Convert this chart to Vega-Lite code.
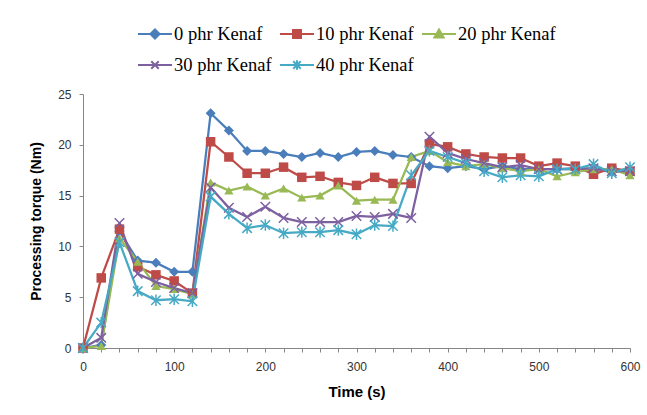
{
"$schema": "https://vega.github.io/schema/vega-lite/v6.json",
"width": 547, "height": 254,
"autosize": {"type": "none"},
"padding": {"left": 83, "top": 94, "right": 17, "bottom": 67},
"background": "white",
"config": {"view": {"stroke": null}, "font": "Liberation Sans"},
"data": {"values": [
{"t":0,"s":"0 phr Kenaf","v":0},{"t":20,"s":"0 phr Kenaf","v":0.3},{"t":40,"s":"0 phr Kenaf","v":11.5},{"t":60,"s":"0 phr Kenaf","v":8.6},{"t":80,"s":"0 phr Kenaf","v":8.4},{"t":100,"s":"0 phr Kenaf","v":7.5},{"t":120,"s":"0 phr Kenaf","v":7.5},{"t":140,"s":"0 phr Kenaf","v":23.1},{"t":160,"s":"0 phr Kenaf","v":21.4},{"t":180,"s":"0 phr Kenaf","v":19.4},{"t":200,"s":"0 phr Kenaf","v":19.4},{"t":220,"s":"0 phr Kenaf","v":19.1},{"t":240,"s":"0 phr Kenaf","v":18.8},{"t":260,"s":"0 phr Kenaf","v":19.2},{"t":280,"s":"0 phr Kenaf","v":18.8},{"t":300,"s":"0 phr Kenaf","v":19.3},{"t":320,"s":"0 phr Kenaf","v":19.4},{"t":340,"s":"0 phr Kenaf","v":19.0},{"t":360,"s":"0 phr Kenaf","v":18.8},{"t":380,"s":"0 phr Kenaf","v":17.9},{"t":400,"s":"0 phr Kenaf","v":17.7},{"t":420,"s":"0 phr Kenaf","v":17.9},{"t":440,"s":"0 phr Kenaf","v":17.6},{"t":460,"s":"0 phr Kenaf","v":17.9},{"t":480,"s":"0 phr Kenaf","v":17.6},{"t":500,"s":"0 phr Kenaf","v":17.6},{"t":520,"s":"0 phr Kenaf","v":17.6},{"t":540,"s":"0 phr Kenaf","v":17.7},{"t":560,"s":"0 phr Kenaf","v":17.6},{"t":580,"s":"0 phr Kenaf","v":17.3},{"t":600,"s":"0 phr Kenaf","v":17.4},
{"t":0,"s":"10 phr Kenaf","v":0},{"t":20,"s":"10 phr Kenaf","v":6.9},{"t":40,"s":"10 phr Kenaf","v":11.7},{"t":60,"s":"10 phr Kenaf","v":8.0},{"t":80,"s":"10 phr Kenaf","v":7.2},{"t":100,"s":"10 phr Kenaf","v":6.6},{"t":120,"s":"10 phr Kenaf","v":5.4},{"t":140,"s":"10 phr Kenaf","v":20.3},{"t":160,"s":"10 phr Kenaf","v":18.8},{"t":180,"s":"10 phr Kenaf","v":17.2},{"t":200,"s":"10 phr Kenaf","v":17.2},{"t":220,"s":"10 phr Kenaf","v":17.8},{"t":240,"s":"10 phr Kenaf","v":16.8},{"t":260,"s":"10 phr Kenaf","v":16.9},{"t":280,"s":"10 phr Kenaf","v":16.3},{"t":300,"s":"10 phr Kenaf","v":16.0},{"t":320,"s":"10 phr Kenaf","v":16.8},{"t":340,"s":"10 phr Kenaf","v":16.2},{"t":360,"s":"10 phr Kenaf","v":16.2},{"t":380,"s":"10 phr Kenaf","v":20.1},{"t":400,"s":"10 phr Kenaf","v":19.8},{"t":420,"s":"10 phr Kenaf","v":19.1},{"t":440,"s":"10 phr Kenaf","v":18.8},{"t":460,"s":"10 phr Kenaf","v":18.7},{"t":480,"s":"10 phr Kenaf","v":18.7},{"t":500,"s":"10 phr Kenaf","v":17.9},{"t":520,"s":"10 phr Kenaf","v":18.2},{"t":540,"s":"10 phr Kenaf","v":17.9},{"t":560,"s":"10 phr Kenaf","v":17.1},{"t":580,"s":"10 phr Kenaf","v":17.7},{"t":600,"s":"10 phr Kenaf","v":17.4},
{"t":0,"s":"20 phr Kenaf","v":0},{"t":20,"s":"20 phr Kenaf","v":0.2},{"t":40,"s":"20 phr Kenaf","v":10.8},{"t":60,"s":"20 phr Kenaf","v":8.5},{"t":80,"s":"20 phr Kenaf","v":6.1},{"t":100,"s":"20 phr Kenaf","v":5.8},{"t":120,"s":"20 phr Kenaf","v":5.3},{"t":140,"s":"20 phr Kenaf","v":16.3},{"t":160,"s":"20 phr Kenaf","v":15.5},{"t":180,"s":"20 phr Kenaf","v":15.9},{"t":200,"s":"20 phr Kenaf","v":15.0},{"t":220,"s":"20 phr Kenaf","v":15.7},{"t":240,"s":"20 phr Kenaf","v":14.8},{"t":260,"s":"20 phr Kenaf","v":15.0},{"t":280,"s":"20 phr Kenaf","v":16.0},{"t":300,"s":"20 phr Kenaf","v":14.5},{"t":320,"s":"20 phr Kenaf","v":14.6},{"t":340,"s":"20 phr Kenaf","v":14.6},{"t":360,"s":"20 phr Kenaf","v":18.8},{"t":380,"s":"20 phr Kenaf","v":19.4},{"t":400,"s":"20 phr Kenaf","v":18.3},{"t":420,"s":"20 phr Kenaf","v":17.9},{"t":440,"s":"20 phr Kenaf","v":18.1},{"t":460,"s":"20 phr Kenaf","v":17.7},{"t":480,"s":"20 phr Kenaf","v":17.4},{"t":500,"s":"20 phr Kenaf","v":17.6},{"t":520,"s":"20 phr Kenaf","v":16.9},{"t":540,"s":"20 phr Kenaf","v":17.3},{"t":560,"s":"20 phr Kenaf","v":17.6},{"t":580,"s":"20 phr Kenaf","v":17.6},{"t":600,"s":"20 phr Kenaf","v":17.0},
{"t":0,"s":"30 phr Kenaf","v":0},{"t":20,"s":"30 phr Kenaf","v":1.0},{"t":40,"s":"30 phr Kenaf","v":12.3},{"t":60,"s":"30 phr Kenaf","v":7.3},{"t":80,"s":"30 phr Kenaf","v":6.5},{"t":100,"s":"30 phr Kenaf","v":5.9},{"t":120,"s":"30 phr Kenaf","v":5.4},{"t":140,"s":"30 phr Kenaf","v":15.8},{"t":160,"s":"30 phr Kenaf","v":13.8},{"t":180,"s":"30 phr Kenaf","v":12.9},{"t":200,"s":"30 phr Kenaf","v":13.9},{"t":220,"s":"30 phr Kenaf","v":12.8},{"t":240,"s":"30 phr Kenaf","v":12.4},{"t":260,"s":"30 phr Kenaf","v":12.4},{"t":280,"s":"30 phr Kenaf","v":12.4},{"t":300,"s":"30 phr Kenaf","v":13.0},{"t":320,"s":"30 phr Kenaf","v":12.9},{"t":340,"s":"30 phr Kenaf","v":13.2},{"t":360,"s":"30 phr Kenaf","v":12.8},{"t":380,"s":"30 phr Kenaf","v":20.8},{"t":400,"s":"30 phr Kenaf","v":19.2},{"t":420,"s":"30 phr Kenaf","v":18.6},{"t":440,"s":"30 phr Kenaf","v":18.2},{"t":460,"s":"30 phr Kenaf","v":17.8},{"t":480,"s":"30 phr Kenaf","v":18.0},{"t":500,"s":"30 phr Kenaf","v":17.6},{"t":520,"s":"30 phr Kenaf","v":17.6},{"t":540,"s":"30 phr Kenaf","v":17.6},{"t":560,"s":"30 phr Kenaf","v":17.7},{"t":580,"s":"30 phr Kenaf","v":17.4},{"t":600,"s":"30 phr Kenaf","v":17.4},
{"t":0,"s":"40 phr Kenaf","v":0},{"t":20,"s":"40 phr Kenaf","v":2.5},{"t":40,"s":"40 phr Kenaf","v":10.4},{"t":60,"s":"40 phr Kenaf","v":5.6},{"t":80,"s":"40 phr Kenaf","v":4.7},{"t":100,"s":"40 phr Kenaf","v":4.8},{"t":120,"s":"40 phr Kenaf","v":4.6},{"t":140,"s":"40 phr Kenaf","v":14.9},{"t":160,"s":"40 phr Kenaf","v":13.2},{"t":180,"s":"40 phr Kenaf","v":11.8},{"t":200,"s":"40 phr Kenaf","v":12.1},{"t":220,"s":"40 phr Kenaf","v":11.3},{"t":240,"s":"40 phr Kenaf","v":11.4},{"t":260,"s":"40 phr Kenaf","v":11.4},{"t":280,"s":"40 phr Kenaf","v":11.6},{"t":300,"s":"40 phr Kenaf","v":11.2},{"t":320,"s":"40 phr Kenaf","v":12.1},{"t":340,"s":"40 phr Kenaf","v":12.0},{"t":360,"s":"40 phr Kenaf","v":17.0},{"t":380,"s":"40 phr Kenaf","v":19.4},{"t":400,"s":"40 phr Kenaf","v":18.8},{"t":420,"s":"40 phr Kenaf","v":18.2},{"t":440,"s":"40 phr Kenaf","v":17.4},{"t":460,"s":"40 phr Kenaf","v":16.8},{"t":480,"s":"40 phr Kenaf","v":17.0},{"t":500,"s":"40 phr Kenaf","v":16.9},{"t":520,"s":"40 phr Kenaf","v":17.6},{"t":540,"s":"40 phr Kenaf","v":17.6},{"t":560,"s":"40 phr Kenaf","v":18.1},{"t":580,"s":"40 phr Kenaf","v":17.2},{"t":600,"s":"40 phr Kenaf","v":17.8}
]},
"encoding": {
  "x": {"field": "t", "type": "quantitative", "scale": {"domain": [0, 600], "nice": false, "zero": false},
    "axis": {"title": "Time (s)", "values": [0,20,40,60,80,100,120,140,160,180,200,220,240,260,280,300,320,340,360,380,400,420,440,460,480,500,520,540,560,580,600],
      "labelExpr": "datum.value % 100 === 0 ? datum.label : ''", "labelOverlap": false, "labelFlush": false,
      "grid": false, "tickSize": 4, "labelPadding": 9, "domainColor": "#868686", "tickColor": "#868686",
      "labelFontSize": 12, "labelColor": "#333333", "titleFontSize": 15, "titleFontWeight": "bold", "titleColor": "black", "titlePadding": 12}},
  "y": {"field": "v", "type": "quantitative", "scale": {"domain": [0, 25], "nice": false},
    "axis": {"title": "Processing torque (Nm)", "values": [0,5,10,15,20,25], "grid": false, "tickSize": 4, "labelPadding": 8,
      "domainColor": "#868686", "tickColor": "#868686", "labelFontSize": 12, "labelColor": "#333333",
      "titleFontSize": 14, "titleFontWeight": "bold", "titleColor": "black", "titlePadding": 14}},
  "color": {"field": "s", "type": "nominal",
    "scale": {"domain": ["0 phr Kenaf", "10 phr Kenaf", "20 phr Kenaf", "30 phr Kenaf", "40 phr Kenaf"],
              "range": ["#4A7EBB", "#BE4B48", "#98B954", "#7D60A0", "#46AAC5"]},
    "legend": {"title": null, "orient": "none", "legendX": 54, "legendY": -78, "direction": "horizontal", "columns": 3,
      "gridAlign": "none", "columnPadding": 4, "rowPadding": 3, "padding": 0,
      "labelFont": "Liberation Serif", "labelFontSize": 18.5, "labelColor": "black", "labelLimit": 300, "labelOffset": 1,
      "symbolSize": 1156, "symbolStrokeWidth": 2,
      "encode": {"symbols": {"update": {
        "shape": {"signal": "datum.value === '0 phr Kenaf' ? 'M-1,0L1,0M0,-0.27L0.27,0L0,0.27L-0.27,0Z' : datum.value === '10 phr Kenaf' ? 'M-1,0L1,0M-0.235,-0.235L0.235,-0.235L0.235,0.235L-0.235,0.235Z' : datum.value === '20 phr Kenaf' ? 'M-1,0L1,0M0,-0.27L0.27,0.2L-0.27,0.2Z' : datum.value === '30 phr Kenaf' ? 'M-1,0L1,0M-0.22,-0.22L0.22,0.22M-0.22,0.22L0.22,-0.22' : 'M-1,0L1,0M-0.22,-0.22L0.22,0.22M-0.22,0.22L0.22,-0.22M0,-0.28L0,0.28'"},
        "fill": {"signal": "datum.value === '0 phr Kenaf' ? '#4A7EBB' : datum.value === '10 phr Kenaf' ? '#BE4B48' : datum.value === '20 phr Kenaf' ? '#98B954' : 'transparent'"},
        "stroke": {"signal": "datum.value === '0 phr Kenaf' ? '#4A7EBB' : datum.value === '10 phr Kenaf' ? '#BE4B48' : datum.value === '20 phr Kenaf' ? '#98B954' : datum.value === '30 phr Kenaf' ? '#7D60A0' : '#46AAC5'"},
        "opacity": {"value": 1}, "strokeWidth": {"value": 2}}}}}}
},
"layer": [
  {"mark": {"type": "line", "strokeWidth": 2.25}},
  {"transform": [{"filter": "datum.s === '0 phr Kenaf'"}], "mark": {"type": "point", "shape": "diamond", "filled": true, "size": 100, "opacity": 1}},
  {"transform": [{"filter": "datum.s === '10 phr Kenaf'"}], "mark": {"type": "point", "shape": "square", "filled": true, "size": 90, "opacity": 1}},
  {"transform": [{"filter": "datum.s === '20 phr Kenaf'"}], "mark": {"type": "point", "shape": "triangle-up", "filled": true, "size": 85, "opacity": 1}},
  {"transform": [{"filter": "datum.s === '30 phr Kenaf'"}], "mark": {"type": "point", "shape": "M-1,-1L1,1M-1,1L1,-1", "filled": false, "size": 90, "strokeWidth": 1.5, "opacity": 1}},
  {"transform": [{"filter": "datum.s === '40 phr Kenaf'"}], "mark": {"type": "point", "shape": "M-1,-1L1,1M-1,1L1,-1M0,-1.2L0,1.2", "filled": false, "size": 90, "strokeWidth": 1.5, "opacity": 1}}
]
}
